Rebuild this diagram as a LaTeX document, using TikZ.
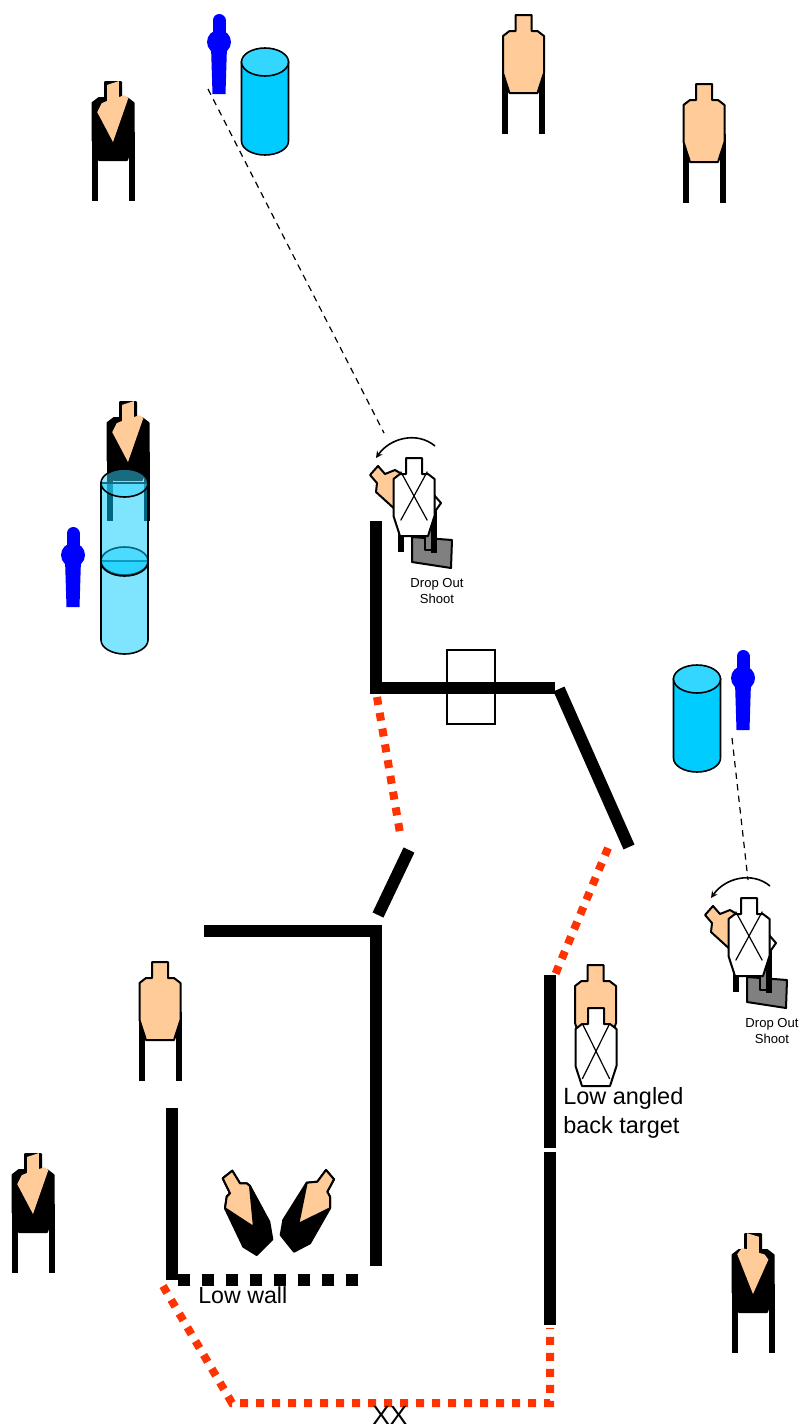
\documentclass[tikz,border=0pt]{standalone}
\usepackage{fontspec}
\setmainfont{Liberation Sans}
\definecolor{tgtskin}{HTML}{FFCC99}
\definecolor{faultred}{HTML}{FF3300}
\definecolor{barrelblue}{HTML}{00CCFF}
\definecolor{barreltop}{HTML}{33D6FF}
\definecolor{plategray}{HTML}{808080}
\tikzset{
    wall/.style={line width=3mm},
    lowwall/.style={line width=3mm, dash pattern=on 3mm off 3mm},
    faultline/.style={faultred, line width=2mm, dash pattern=on 2mm off 2mm},
    sightline/.style={line width=.3mm, dash pattern=on 1.6mm off 1.3mm},
    tgtedge/.style={draw=black, line width=.5mm, line join=round},
    tgtlegs/.pic={
        \draw[line width=1.5mm] (-18.5,50) -- (-18.5,118.5);
        \draw[line width=1.5mm] (18.5,50) -- (18.5,118.5);
    },
    tgtshape/.pic={
        \path[pic actions] (-8,0) -- (8,0) -- (8,16) -- (14,16) -- (20.5,21) -- (20.5,58)
            -- (14,78) -- (-14,78) -- (-20.5,58) -- (-20.5,21) -- (-14,16) -- (-8,16) -- cycle;
    },
    tgtpeach/.pic={
        \pic {tgtlegs};
        \pic[tgtedge, fill=tgtskin] {tgtshape};
    },
    tgtdark/.pic={
        \pic {tgtlegs};
        \pic[tgtedge, fill=black] {tgtshape};
        \fill[tgtskin] (-7,1) -- (7,1) -- (7,17) -- (14,17) -- (18.5,21) -- (0,60)
            -- (-19,25) -- (-13.5,17.5) -- (-7,17) -- cycle;
    },
    tgtwhite/.pic={
        \pic[tgtedge, fill=white] {tgtshape};
        \draw[line width=.3mm] (-14,17) -- (14,78) (14,17) -- (-14,78);
    },
    bluefig/.pic={
        \draw[blue, line width=3.25mm, line cap=round] (0,6.5) -- (0,28);
        \fill[blue] (0,28) circle [radius=3mm];
        \fill[blue] (-8,32) -- (8,32) -- (6.5,80) -- (-6.5,80) -- cycle;
    },
    barrel/.pic={
        \path[draw=black, line width=.4mm, fill=barrelblue] (-23.5,0) -- (-23.5,79)
            arc [start angle=180, end angle=360, x radius=5.875mm, y radius=3.5mm]
            -- (23.5,0) -- cycle;
        \path[draw=black, line width=.4mm, fill=barreltop] (0,0) ellipse [x radius=5.875mm, y radius=3.5mm];
    },
    dropshoot/.pic={
        \draw[tgtedge, fill=plategray] (-2,79) -- (38,82) -- (37,110) -- (-2,104) -- cycle;
        \draw[line width=1.4mm] (-13,40) -- (-13,94);
        \draw[tgtedge, line width=.3mm, fill=plategray] (11,60) rectangle (18,92);
        \draw[line width=1.4mm] (20,40) -- (20,95);
        \draw[tgtedge, fill=white] (20,37) -- (27,45) -- (20,55) -- cycle;
        \draw[tgtedge, fill=plategray] (-4,66) -- (6,75) -- (17,60) -- (4,60) -- cycle;
        \draw[tgtedge, fill=tgtskin] (-36,8) -- (-44,17) -- (-37,25) -- (-38,34) -- (-16,54)
            -- (-14,15) -- (-19,12) -- (-29,16) -- cycle;
        \pic[xscale=.95, yscale=.8] {tgtwhite};
        \draw[line width=.4mm, ->, >=stealth] (21,-12) .. controls (3,-27) and (-24,-20) .. (-38,0);
        \node[font=\fontsize{9.3}{12}\selectfont, align=center] (droptext) at (23,133) {Drop Out\\Shoot};
    }
}
\begin{document}
\begin{tikzpicture}[x=.25mm, y=-.25mm]
        \useasboundingbox (0,0) rectangle (804,1427);
        % targets
        \pic[xscale=.83, yslant=.27] at (113,82) {tgtdark};
        \pic at (523.5,15) {tgtpeach};
        \pic[xscale=.8, yslant=-.25] at (704,84) {tgtpeach};
        \pic[xscale=.83, yslant=.27] at (128,402) {tgtdark};
        \pic[xscale=.83, yslant=.27] at (160,962) {tgtpeach};
        \pic[xscale=.83, yslant=.27] at (33,1154) {tgtdark};
        \pic[xscale=.83, yslant=-.25] at (753,1234) {tgtdark};
        \pic at (595.5,965) {tgtshape};
        \pic[tgtedge, fill=tgtskin] at (595.5,965) {tgtshape};
        \pic[xscale=.98, yscale=.91] at (596,1008) {tgtwhite};
        % the two leaning targets on the floor
        \draw[tgtedge, fill=black] (222.7,1178.3) -- (232.3,1170.7) -- (240,1183.3) -- (246.7,1183.3)
            -- (250,1186) -- (269.3,1221.7) -- (272.3,1239.3) -- (256.7,1255) -- (243.3,1246.7)
            -- (225,1208.3) -- (226.7,1196.7) -- (230,1193.3) -- cycle;
        \draw[tgtedge, fill=tgtskin] (222.7,1178.3) -- (232.3,1170.7) -- (240,1183.3) -- (246.7,1183.3)
            -- (250,1186) -- (254,1227.3) -- (225,1208.3) -- (226.7,1196.7) -- (230,1193.3) -- cycle;
        \draw[tgtedge, fill=black] (326,1170) -- (334,1179.3) -- (327.3,1191.7) -- (330,1196.7)
            -- (330,1208.3) -- (310,1243.3) -- (294,1251.7) -- (280.7,1235) -- (283.3,1220)
            -- (306.7,1182.7) -- (317.3,1181.7) -- cycle;
        \draw[tgtedge, fill=tgtskin] (326,1170) -- (334,1179.3) -- (327.3,1191.7) -- (330,1196.7)
            -- (330,1208.3) -- (298.3,1224) -- (306.7,1182.7) -- (317.3,1181.7) -- cycle;
        % barrels and shooters
        \pic at (219,14) {bluefig};
        \pic at (73,527) {bluefig};
        \pic at (743,650) {bluefig};
        \pic at (265,62) {barrel};
        \pic at (697,679) {barrel};
        \pic[fill opacity=.5] at (124.5,561) {barrel};
        \pic[fill opacity=.5] at (124.5,483) {barrel};
        % walls
        \draw[wall] (376,521) -- (376,694);
        \draw[wall] (370,688) -- (555,688);
        \draw[wall] (559,689) -- (629,847);
        \draw[wall] (409,850) -- (378,915);
        \draw[wall] (204,931) -- (382,931);
        \draw[wall] (376,925) -- (376,1266);
        \draw[wall] (172,1108) -- (172,1280);
        \draw[lowwall] (178,1280) -- (358,1280);
        \draw[wall] (550,975) -- (550,1148);
        \draw[wall] (550,1152) -- (550,1325);
        \draw[line width=.3mm] (447,650) rectangle (495,724);
        % fault lines
        \draw[faultline] (377,697) -- (400,833);
        \draw[faultline] (608,848) -- (555,975);
        \draw[faultline] (163,1286) -- (232,1403) -- (550,1403) -- (550,1328);
        % turning targets
        \pic at (414,458) {dropshoot};
        \pic at (749,898) {dropshoot};
        \draw[sightline] (208,89) -- (384,433);
        \draw[sightline] (732,738) -- (748,880);
        % labels
        \node[font=\fontsize{16.7}{20.6}\selectfont, align=left, anchor=north west, inner sep=0pt] (backtext) at (563,1087) {Low angled\\back target};
        \node[font=\fontsize{16.5}{20}\selectfont, anchor=base west, inner sep=0pt] (walltext) at (198,1303) {Low wall};
        \node[font=\fontsize{18.7}{20}\selectfont, anchor=base west, inner sep=0pt] (startmark) at (372,1424) {XX};
    \end{tikzpicture}
\end{document}
